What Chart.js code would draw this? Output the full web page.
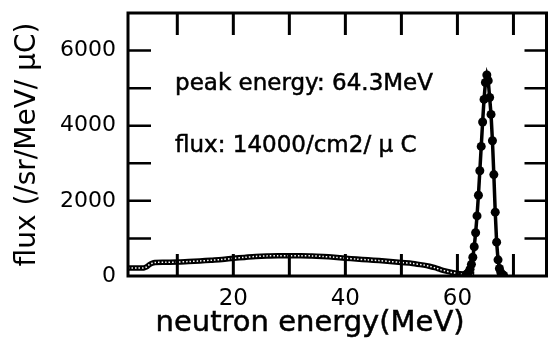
<!DOCTYPE html>
<html>
<head>
<meta charset="utf-8">
<script src="https://cdn.jsdelivr.net/npm/chart.js@4"></script>
<style>
  html, body { margin: 0; padding: 0; background: #fff; }
  #wrap { width: 551px; height: 339px; }
</style>
</head>
<body>
<div id="wrap"><canvas id="spectrum"></canvas></div>
<script>
// broad continuum part of the spectrum (MeV, flux)
const contEnergy = [1.2, 2, 3, 4, 4.5, 5, 5.5, 6, 8, 10, 12, 14, 16, 18, 20, 22, 24, 26, 28, 30,
    32, 34, 36, 38, 40, 42, 44, 46, 48, 50, 52, 54, 55, 56, 57, 58, 59, 60, 61, 62, 63];
const contFlux = [210, 210, 210, 215, 240, 300, 340, 360, 365, 370, 385, 400, 420, 440, 470, 495, 520, 535, 540, 540,
    540, 535, 520, 500, 475, 450, 430, 410, 385, 360, 335, 290, 260, 220, 170, 130, 95, 70, 55, 50, 45];

// quasi-monoenergetic peak, measured points
const peakEnergy = [61.5, 61.75, 62, 62.25, 62.5, 62.75, 63, 63.25, 63.5, 63.75, 64, 64.25, 64.5, 64.75,
    65, 65.25, 65.5, 65.75, 66, 66.25, 66.5, 66.75, 67, 67.25, 67.5, 67.75, 68, 68.25];
const peakFlux = [30, 55, 100, 180, 310, 500, 780, 1150, 1600, 2150, 2800, 3450, 4100, 4700,
    5150, 5350, 5200, 4750, 4300, 3600, 2700, 1700, 900, 430, 200, 90, 40, 15];

// axis ticks
const xLabelTicks = [20, 40, 60];
const xMarkTicks = [10, 20, 30, 40, 50, 60, 70];
const yLabelTicks = [0, 2000, 4000, 6000];
const yMarkTicks = [1000, 2000, 3000, 4000, 5000, 6000];

const notes = ['peak energy: 64.3MeV', 'flux: 14000/cm2/ \u03bc C'];
const xTitle = 'neutron energy(MeV)';
const yTitle = 'flux (/sr/MeV/ \u03bcC)';

const FONT = "'DejaVu Sans', sans-serif";
Chart.defaults.font.family = FONT;
Chart.defaults.color = '#000';

const toPoints = (xs, ys) => xs.map((x, i) => ({ x: x, y: ys[i] }));

// frame, inward tick marks, notes and x title
const framePlugin = {
    id: 'frame',
    afterDatasetsDraw(chart) {
        const { ctx, chartArea: a, scales: { x, y } } = chart;
        ctx.save();
        ctx.strokeStyle = '#000';
        ctx.lineCap = 'butt';

        ctx.lineWidth = 3;
        xMarkTicks.forEach(v => {
            const px = x.getPixelForValue(v);
            ctx.beginPath();
            ctx.moveTo(px, a.bottom);
            ctx.lineTo(px, a.bottom - 22);
            ctx.moveTo(px, a.top);
            ctx.lineTo(px, a.top + 22);
            ctx.stroke();
        });

        ctx.lineWidth = 2.5;
        yMarkTicks.forEach(v => {
            const py = y.getPixelForValue(v);
            ctx.beginPath();
            ctx.moveTo(a.left, py);
            ctx.lineTo(a.left + 23, py);
            ctx.moveTo(a.right, py);
            ctx.lineTo(a.right - 22, py);
            ctx.stroke();
        });

        ctx.lineWidth = 3;
        ctx.strokeRect(a.left, a.top, a.right - a.left, a.bottom - a.top);

        // annotations, slightly thickened like the scanned print
        ctx.fillStyle = '#000';
        ctx.lineWidth = 0.5;
        ctx.font = '23px ' + FONT;
        ctx.textAlign = 'left';
        ctx.textBaseline = 'alphabetic';
        [[4950, notes[0]], [3300, notes[1]]].forEach(([v, t]) => {
            const px = x.getPixelForValue(9.6), py = y.getPixelForValue(v);
            ctx.fillText(t, px, py);
            ctx.strokeText(t, px, py);
        });

        // x axis title
        ctx.font = '29px ' + FONT;
        ctx.textAlign = 'center';
        const tx = a.left + 0.435 * (a.right - a.left), ty = chart.height - 8;
        ctx.fillText(xTitle, tx, ty);
        ctx.strokeText(xTitle, tx, ty);
        ctx.restore();
    }
};

const ctx = document.getElementById('spectrum').getContext('2d');
new Chart(ctx, {
    type: 'line',
    data: {
        datasets: [
            {
                label: 'peak',
                data: toPoints(peakEnergy, peakFlux),
                borderColor: '#000',
                borderWidth: 3.5,
                pointRadius: 4.5,
                pointBackgroundColor: '#000',
                pointBorderWidth: 0,
                tension: 0,
                order: 0
            },
            {
                label: 'continuum dots',
                data: toPoints(contEnergy, contFlux),
                borderColor: '#fff',
                borderWidth: 1.5,
                borderDash: [1.5, 2],
                pointRadius: 0,
                tension: 0.3,
                order: 1
            },
            {
                label: 'continuum',
                data: toPoints(contEnergy, contFlux),
                borderColor: '#000',
                borderWidth: 5.5,
                pointRadius: 0,
                tension: 0.3,
                order: 2
            }
        ]
    },
    options: {
        responsive: true,
        maintainAspectRatio: false,
        animation: false,
        layout: { padding: { top: 13, right: 4, left: 0, bottom: 0 } },
        plugins: {
            legend: { display: false },
            tooltip: { enabled: false }
        },
        scales: {
            x: {
                type: 'linear',
                min: 1.2,
                max: 75.9,
                grid: { display: false, drawTicks: false },
                border: { display: false },
                afterBuildTicks: s => { s.ticks = xLabelTicks.map(v => ({ value: v })); },
                afterFit: s => { s.height = 63; s.paddingLeft = 0; s.paddingRight = 0; },
                ticks: {
                    font: { size: 23 },
                    padding: 9,
                    maxRotation: 0,
                    autoSkip: false,
                    callback: v => String(v)
                }
            },
            y: {
                min: 0,
                max: 7000,
                grid: { display: false, drawTicks: false },
                border: { display: false },
                afterBuildTicks: s => { s.ticks = yLabelTicks.map(v => ({ value: v })); },
                afterFit: s => { s.width = 128; s.paddingTop = 0; s.paddingBottom = 0; },
                ticks: {
                    font: { size: 22 },
                    padding: 12,
                    callback: v => String(v)
                },
                title: {
                    display: true,
                    text: yTitle,
                    font: { size: 28 },
                    padding: { top: 11, bottom: 0 }
                }
            }
        }
    },
    plugins: [framePlugin]
});
</script>
</body>
</html>
